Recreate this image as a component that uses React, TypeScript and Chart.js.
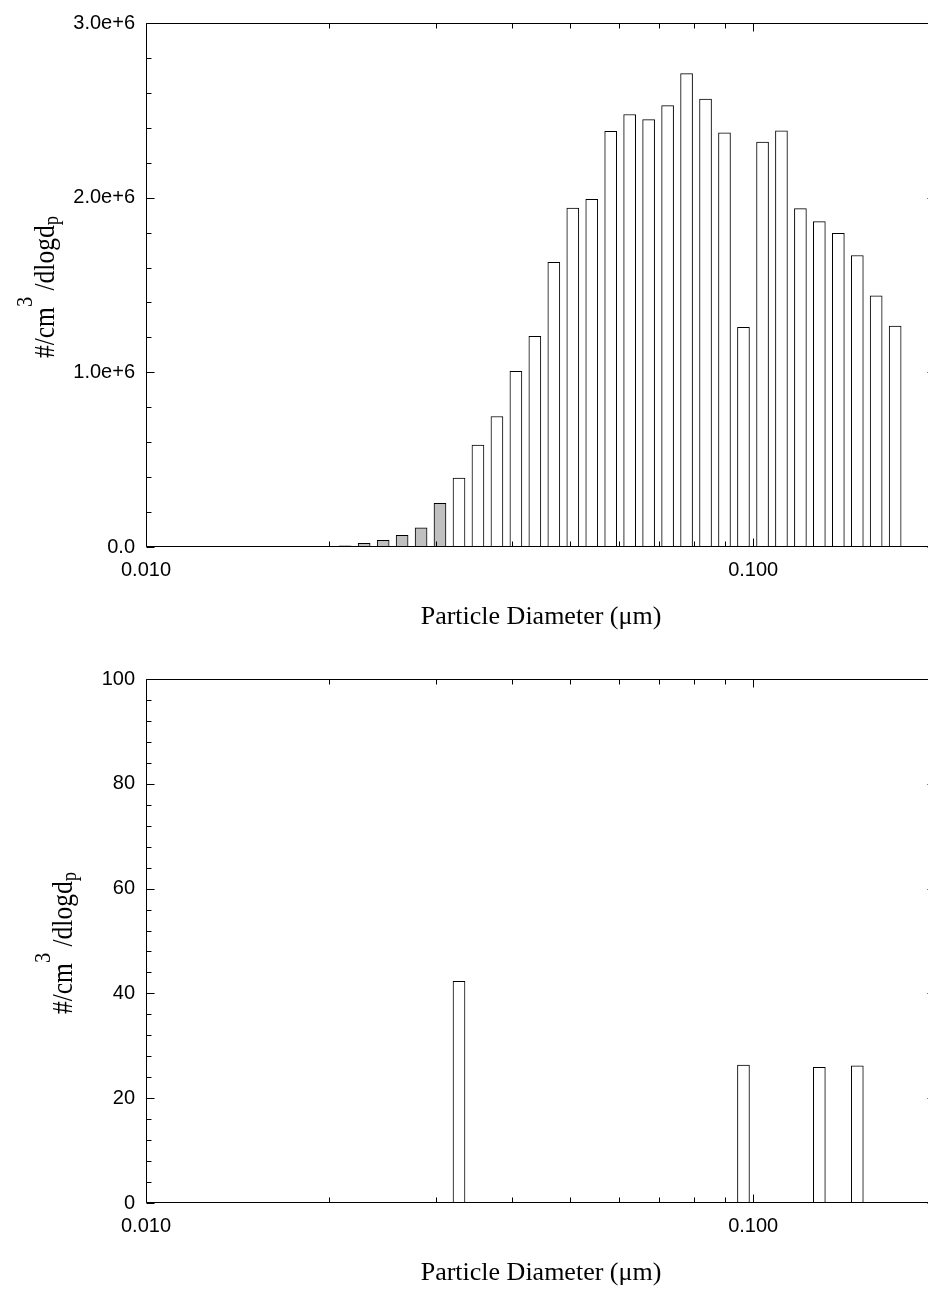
import React, { useEffect, useRef } from "react";
import { Chart, registerables } from "chart.js";

Chart.register(...registerables);

// Particle diameter channel midpoints (µm)
const diameters = [
  0.02128, 0.02287, 0.02458, 0.02641, 0.02838, 0.03049, 0.03277, 0.03521,
  0.03784, 0.04066, 0.04369, 0.04695, 0.05045, 0.05421, 0.05825, 0.06259,
  0.06726, 0.07228, 0.07767, 0.08346, 0.08968, 0.09637, 0.1036, 0.1113,
  0.1196, 0.1285, 0.1381, 0.1484, 0.1594, 0.1713,
];

// Upper panel: #/cm3/dlogdp
const upperCounts = [
  6e3, 2.1e4, 3.8e4, 6.7e4, 1.1e5, 2.5e5, 3.94e5, 5.83e5,
  7.47e5, 1.006e6, 1.206e6, 1.63e6, 1.94e6, 1.99e6, 2.38e6, 2.476e6,
  2.447e6, 2.527e6, 2.71e6, 2.564e6, 2.371e6, 1.257e6, 2.318e6, 2.383e6,
  1.937e6, 1.863e6, 1.796e6, 1.669e6, 1.438e6, 1.265e6,
];

// Lower panel: #/cm3/dlogdp
const lowerCounts = [
  0, 0, 0, 0, 0, 0, 42.3, 0,
  0, 0, 0, 0, 0, 0, 0, 0,
  0, 0, 0, 0, 0, 26.3, 0, 0,
  0, 25.9, 0, 26.2, 0, 0,
];

const xTickValues = [0.01, 0.1];
const upperYTicks = [0, 1e6, 2e6, 3e6];
const lowerYTicks = [0, 20, 40, 60, 80, 100];

const X_MIN = 0.01;
const X_MAX = 0.2;
const SHADED_BARS = 6;

const SANS = '"Liberation Sans", Arial, Helvetica, sans-serif';
const SERIF = '"Liberation Serif", "Times New Roman", Times, serif';

const frameAndTitles = {
  id: "frameAndTitles",
  afterDraw(chart: any, _args: any, opts: any) {
    const { ctx, chartArea: a } = chart;
    const xs = chart.scales.x;
    const ys = chart.scales.y;
    const L = Math.round(a.left) + 0.5;
    const R = Math.round(a.right) - 0.5;
    const T = Math.round(a.top) + 0.5;
    const B = Math.round(a.bottom) - 0.5;
    ctx.save();
    ctx.strokeStyle = "#000";
    ctx.lineWidth = 1;
    ctx.beginPath();
    ctx.rect(L, T, R - L, B - T);
    ctx.stroke();

    const line = (x1: number, y1: number, x2: number, y2: number) => {
      ctx.beginPath();
      ctx.moveTo(x1, y1);
      ctx.lineTo(x2, y2);
      ctx.stroke();
    };

    // x ticks (log decades, inward, top and bottom)
    for (const dec of xTickValues) {
      for (let m = 1; m <= 9; m++) {
        const v = m * dec;
        if (v < xs.min * 0.999 || v > xs.max * 1.001) continue;
        const px = Math.round(xs.getPixelForValue(v)) + 0.5;
        const len = m === 1 ? 8 : 5;
        line(px, B, px, B - len);
        line(px, T, px, T + len);
      }
    }
    // y ticks (inward, left and right)
    const major: number = opts.yMajor;
    const minorCount = 5;
    const steps = Math.round((ys.max - ys.min) / major) * minorCount;
    for (let i = 0; i <= steps; i++) {
      const v = ys.min + (i * major) / minorCount;
      const py = Math.round(ys.getPixelForValue(v)) + 0.5;
      const len = i % minorCount === 0 ? 8 : 5;
      line(L, py, L + len, py);
      line(R, py, R - len, py);
    }

    // x title
    ctx.fillStyle = "#000";
    ctx.font = `26px ${SERIF}`;
    ctx.textAlign = "center";
    ctx.textBaseline = "middle";
    ctx.fillText("Particle Diameter (\u03bcm)", (a.left + a.right) / 2, a.bottom + 70);

    // y title with superscript / subscript
    ctx.save();
    ctx.translate(opts.titleBaseX, (a.top + a.bottom) / 2 + 2);
    ctx.rotate(-Math.PI / 2);
    ctx.scale(0.85, 1);
    ctx.textAlign = "left";
    ctx.textBaseline = "alphabetic";
    const parts: [string, number, number][] = [
      ["#/cm", 30, 0],
      ["3", 24, -22],
      [" /dlogd", 30, 0],
      ["p", 22, 4],
    ];
    let total = 0;
    const widths = parts.map(([t, s]) => {
      ctx.font = `${s}px ${SERIF}`;
      const w = ctx.measureText(t).width;
      total += w;
      return w;
    });
    let x0 = -total / 2;
    parts.forEach(([t, s, dy], i) => {
      ctx.font = `${s}px ${SERIF}`;
      ctx.fillText(t, x0, dy);
      x0 += widths[i];
    });
    ctx.restore();
    ctx.restore();
  },
};

type PanelProps = {
  counts: number[];
  yTicks: number[];
  yFormat: (v: number) => string;
  titleBaseX: number;
};

function Panel({ counts, yTicks, yFormat, titleBaseX }: PanelProps) {
  const ref = useRef<HTMLCanvasElement>(null);
  useEffect(() => {
    const yMax = yTicks[yTicks.length - 1];
    const chart = new Chart(ref.current as HTMLCanvasElement, {
      type: "bar",
      data: {
        datasets: [
          {
            data: diameters.map((d, i) => ({ x: d, y: counts[i] })),
            backgroundColor: diameters.map((_, i) => (i < SHADED_BARS ? "#c0c0c0" : "#ffffff")),
            borderColor: "#000",
            borderWidth: 1,
            borderSkipped: "bottom",
            barThickness: 12,
          } as any,
        ],
      },
      options: {
        animation: false,
        responsive: false,
        layout: { padding: { top: 22, right: 0, left: 0, bottom: 0 } },
        plugins: {
          legend: { display: false },
          tooltip: { enabled: false },
          frameAndTitles: { yMajor: yTicks[1] - yTicks[0], titleBaseX },
        } as any,
        scales: {
          x: {
            type: "logarithmic",
            min: X_MIN,
            max: X_MAX,
            offset: false,
            grid: { display: false, drawTicks: false },
            border: { display: false },
            afterBuildTicks: (s: any) => {
              s.ticks = xTickValues.map((v) => ({ value: v }));
            },
            afterFit: (s: any) => {
              s.height = 98;
            },
            ticks: {
              autoSkip: false,
              maxRotation: 0,
              padding: 11,
              color: "#000",
              font: { family: SANS, size: 20 },
              callback: (v: any) => Number(v).toFixed(3),
            },
          },
          y: {
            type: "linear",
            min: 0,
            max: yMax,
            grid: { display: false, drawTicks: false },
            border: { display: false },
            afterBuildTicks: (s: any) => {
              s.ticks = yTicks.map((v) => ({ value: v }));
            },
            afterFit: (s: any) => {
              s.width = 146;
            },
            ticks: {
              padding: 11,
              color: "#000",
              font: { family: SANS, size: 20 },
              callback: (v: any) => yFormat(Number(v)),
            },
          },
        },
      } as any,
      plugins: [frameAndTitles],
    });
    return () => chart.destroy();
  }, []);
  return (
    <canvas
      ref={ref}
      width={936}
      height={645}
      style={{ display: "block", width: 936, height: 645 }}
    />
  );
}

export default function App() {
  return (
    <div
      style={{
        position: "absolute",
        left: 0,
        top: 0,
        width: 928,
        height: 1290,
        overflow: "hidden",
        background: "#fff",
      }}
    >
      <div style={{ position: "absolute", left: 0, top: 0 }}>
        <Panel
          counts={upperCounts}
          yTicks={upperYTicks}
          yFormat={(v) => (v === 0 ? "0.0" : (v / 1e6).toFixed(1) + "e+6")}
          titleBaseX={54}
        />
      </div>
      <div style={{ position: "absolute", left: 0, top: 656 }}>
        <Panel
          counts={lowerCounts}
          yTicks={lowerYTicks}
          yFormat={(v) => String(v)}
          titleBaseX={72}
        />
      </div>
    </div>
  );
}
